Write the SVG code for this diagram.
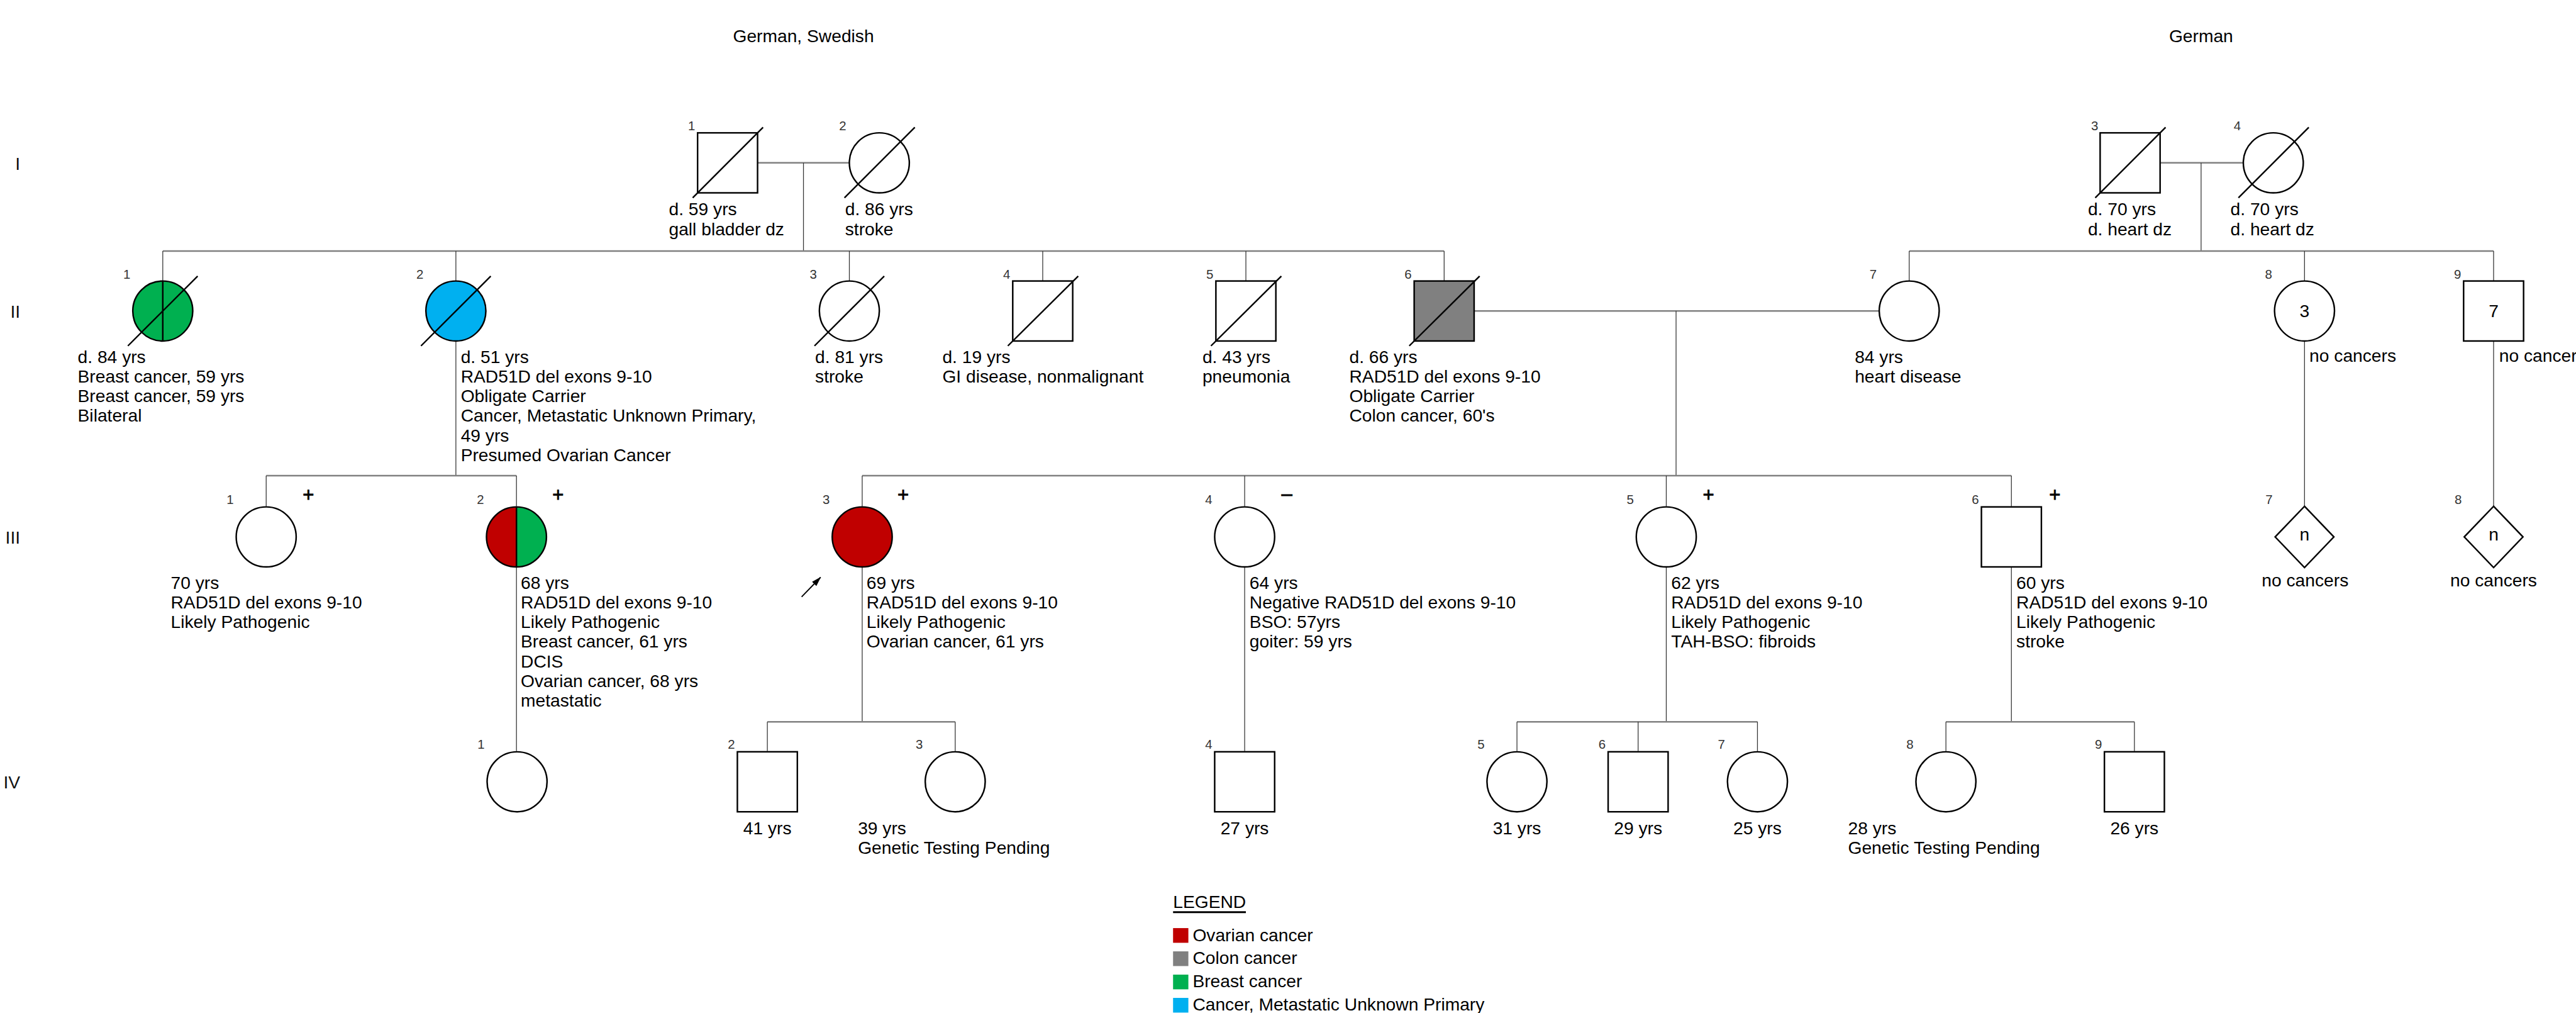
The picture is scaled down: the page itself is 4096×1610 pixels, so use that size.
<svg xmlns="http://www.w3.org/2000/svg" width="4096" height="1610" viewBox="0 0 4096 1610">
<style>
text{font-family:"Liberation Sans",Arial,sans-serif;fill:#000}
.t{font-size:29px}
.pm{font-size:32px;text-anchor:middle;stroke:#000;stroke-width:0.8}
.num{font-size:21px;fill:#333;text-anchor:end}
.gen{font-size:29px;fill:#111;text-anchor:end}
.mid{text-anchor:middle}
.sh{fill:#fff;stroke:#000;stroke-width:2.5}
.sl{stroke:#000;stroke-width:2.5;fill:none}
.h{stroke:#808080;stroke-width:2.5;fill:none}
.v{stroke:#333;stroke-width:1.3;fill:none}
.red{fill:#C00000}
.grn{fill:#00B050}
.blu{fill:#00B0F0}
.gry{fill:#808080}
</style>
<defs>
<marker id="arrow" markerWidth="16" markerHeight="10" refX="15" refY="5" orient="auto" markerUnits="userSpaceOnUse"><path d="M0,0 L16,5 L0,10 z" fill="#000"/></marker>
</defs>
<rect x="0" y="0" width="4096" height="1610" fill="#fff"/>
<g transform="scale(0.973)">
<g id="headers">
<text class="t mid" x="1313" y="69">German, Swedish</text>
<text class="t mid" x="3597" y="69">German</text>
<text class="gen" x="33" y="277">I</text>
<text class="gen" x="33" y="519">II</text>
<text class="gen" x="33" y="888">III</text>
<text class="gen" x="33" y="1288">IV</text>
</g>
<g id="connectors">
<line class="h" x1="1238" y1="266" x2="1388" y2="266"/>
<line class="v" x1="1313" y1="266" x2="1313" y2="410"/>
<line class="h" x1="3530" y1="266" x2="3666" y2="266"/>
<line class="v" x1="3597" y1="266" x2="3597" y2="410"/>
<line class="h" x1="266" y1="410" x2="2360" y2="410"/>
<line class="v" x1="266" y1="410" x2="266" y2="459"/>
<line class="v" x1="745" y1="410" x2="745" y2="459"/>
<line class="v" x1="1388" y1="410" x2="1388" y2="459"/>
<line class="v" x1="1704" y1="410" x2="1704" y2="459"/>
<line class="v" x1="2036" y1="410" x2="2036" y2="459"/>
<line class="v" x1="2360" y1="410" x2="2360" y2="459"/>
<line class="h" x1="3120" y1="410" x2="4075" y2="410"/>
<line class="v" x1="3120" y1="410" x2="3120" y2="459"/>
<line class="v" x1="3766" y1="410" x2="3766" y2="459"/>
<line class="v" x1="4075" y1="410" x2="4075" y2="459"/>
<line class="v" x1="745" y1="557" x2="745" y2="777"/>
<line class="h" x1="435" y1="777" x2="844" y2="777"/>
<line class="v" x1="435" y1="777" x2="435" y2="827"/>
<line class="v" x1="844" y1="777" x2="844" y2="827"/>
<line class="h" x1="2409" y1="508" x2="3071" y2="508"/>
<line class="v" x1="2739" y1="508" x2="2739" y2="777"/>
<line class="h" x1="1409" y1="777" x2="3287" y2="777"/>
<line class="v" x1="1409" y1="777" x2="1409" y2="827"/>
<line class="v" x1="2034" y1="777" x2="2034" y2="827"/>
<line class="v" x1="2723" y1="777" x2="2723" y2="827"/>
<line class="v" x1="3287" y1="777" x2="3287" y2="827"/>
<line class="v" x1="3766" y1="557" x2="3766" y2="827"/>
<line class="v" x1="4075" y1="557" x2="4075" y2="827"/>
<line class="v" x1="844" y1="927" x2="844" y2="1227"/>
<line class="v" x1="1409" y1="927" x2="1409" y2="1179"/>
<line class="h" x1="1254" y1="1179" x2="1561" y2="1179"/>
<line class="v" x1="1254" y1="1179" x2="1254" y2="1227"/>
<line class="v" x1="1561" y1="1179" x2="1561" y2="1227"/>
<line class="v" x1="2034" y1="927" x2="2034" y2="1227"/>
<line class="v" x1="2723" y1="927" x2="2723" y2="1179"/>
<line class="h" x1="2479" y1="1179" x2="2872" y2="1179"/>
<line class="v" x1="2479" y1="1179" x2="2479" y2="1227"/>
<line class="v" x1="2677" y1="1179" x2="2677" y2="1227"/>
<line class="v" x1="2872" y1="1179" x2="2872" y2="1227"/>
<line class="v" x1="3287" y1="927" x2="3287" y2="1179"/>
<line class="h" x1="3180" y1="1179" x2="3488" y2="1179"/>
<line class="v" x1="3180" y1="1179" x2="3180" y2="1227"/>
<line class="v" x1="3488" y1="1179" x2="3488" y2="1227"/>
<line x1="1310" y1="975" x2="1341" y2="943" stroke="#000" stroke-width="2" marker-end="url(#arrow)"/>
</g>
<g id="I-1">
<rect class="sh" x="1140" y="217" width="98" height="98"/>
<line class="sl" x1="1132" y1="323" x2="1247" y2="208"/>
<text class="num" x="1136" y="213">1</text>
<text class="t" x="1093" y="352"><tspan x="1093">d. 59 yrs</tspan><tspan x="1093" dy="32">gall bladder dz</tspan></text>
</g>
<g id="I-2">
<circle class="sh" cx="1437" cy="266" r="49"/>
<line class="sl" x1="1380" y1="323" x2="1495" y2="208"/>
<text class="num" x="1383" y="213">2</text>
<text class="t" x="1381" y="352"><tspan x="1381">d. 86 yrs</tspan><tspan x="1381" dy="32">stroke</tspan></text>
</g>
<g id="I-3">
<rect class="sh" x="3432" y="217" width="98" height="98"/>
<line class="sl" x1="3424" y1="323" x2="3539" y2="208"/>
<text class="num" x="3429" y="213">3</text>
<text class="t" x="3412" y="352"><tspan x="3412">d. 70 yrs</tspan><tspan x="3412" dy="32">d. heart dz</tspan></text>
</g>
<g id="I-4">
<circle class="sh" cx="3715" cy="266" r="49"/>
<line class="sl" x1="3658" y1="323" x2="3773" y2="208"/>
<text class="num" x="3662" y="213">4</text>
<text class="t" x="3645" y="352"><tspan x="3645">d. 70 yrs</tspan><tspan x="3645" dy="32">d. heart dz</tspan></text>
</g>
<g id="II-1">
<circle class="sh grn" cx="266" cy="508" r="49"/>
<line class="sl" x1="266" y1="459" x2="266" y2="557"/>
<line class="sl" x1="209" y1="565" x2="323" y2="451"/>
<text class="num" x="213" y="455">1</text>
<text class="t" x="127" y="593"><tspan x="127">d. 84 yrs</tspan><tspan x="127" dy="32">Breast cancer, 59 yrs</tspan><tspan x="127" dy="32">Breast cancer, 59 yrs</tspan><tspan x="127" dy="32">Bilateral</tspan></text>
</g>
<g id="II-2">
<circle class="sh blu" cx="745" cy="508" r="49"/>
<line class="sl" x1="688" y1="565" x2="802" y2="451"/>
<text class="num" x="692" y="455">2</text>
<text class="t" x="753" y="593"><tspan x="753">d. 51 yrs</tspan><tspan x="753" dy="32">RAD51D del exons 9-10</tspan><tspan x="753" dy="32">Obligate Carrier</tspan><tspan x="753" dy="32">Cancer, Metastatic Unknown Primary,</tspan><tspan x="753" dy="32">49 yrs</tspan><tspan x="753" dy="32">Presumed Ovarian Cancer</tspan></text>
</g>
<g id="II-3">
<circle class="sh" cx="1388" cy="508" r="49"/>
<line class="sl" x1="1331" y1="565" x2="1445" y2="451"/>
<text class="num" x="1335" y="455">3</text>
<text class="t" x="1332" y="593"><tspan x="1332">d. 81 yrs</tspan><tspan x="1332" dy="32">stroke</tspan></text>
</g>
<g id="II-4">
<rect class="sh" x="1655" y="459" width="98" height="98"/>
<line class="sl" x1="1647" y1="565" x2="1762" y2="451"/>
<text class="num" x="1651" y="455">4</text>
<text class="t" x="1540" y="593"><tspan x="1540">d. 19 yrs</tspan><tspan x="1540" dy="32">GI disease, nonmalignant</tspan></text>
</g>
<g id="II-5">
<rect class="sh" x="1987" y="459" width="98" height="98"/>
<line class="sl" x1="1979" y1="565" x2="2094" y2="451"/>
<text class="num" x="1983" y="455">5</text>
<text class="t" x="1965" y="593"><tspan x="1965">d. 43 yrs</tspan><tspan x="1965" dy="32">pneumonia</tspan></text>
</g>
<g id="II-6">
<rect class="sh gry" x="2311" y="459" width="98" height="98"/>
<line class="sl" x1="2303" y1="565" x2="2418" y2="451"/>
<text class="num" x="2307" y="455">6</text>
<text class="t" x="2205" y="593"><tspan x="2205">d. 66 yrs</tspan><tspan x="2205" dy="32">RAD51D del exons 9-10</tspan><tspan x="2205" dy="32">Obligate Carrier</tspan><tspan x="2205" dy="32">Colon cancer, 60's</tspan></text>
</g>
<g id="II-7">
<circle class="sh" cx="3120" cy="508" r="49"/>
<text class="num" x="3067" y="455">7</text>
<text class="t" x="3031" y="593"><tspan x="3031">84 yrs</tspan><tspan x="3031" dy="32">heart disease</tspan></text>
</g>
<g id="II-8">
<circle class="sh" cx="3766" cy="508" r="49"/>
<text class="t mid" x="3766" y="518">3</text>
<text class="num" x="3713" y="455">8</text>
<text class="t" x="3774" y="591">no cancers</text>
</g>
<g id="II-9">
<rect class="sh" x="4026" y="459" width="98" height="98"/>
<text class="t mid" x="4075" y="518">7</text>
<text class="num" x="4022" y="455">9</text>
<text class="t" x="4084" y="591">no cancers</text>
</g>
<g id="III-1">
<circle class="sh" cx="435" cy="877" r="49"/>
<text class="num" x="382" y="823">1</text>
<text class="pm" x="504" y="819">+</text>
<text class="t" x="279" y="962"><tspan x="279">70 yrs</tspan><tspan x="279" dy="32">RAD51D del exons 9-10</tspan><tspan x="279" dy="32">Likely Pathogenic</tspan></text>
</g>
<g id="III-2">
<path class="red" d="M844,828 A49,49 0 0 0 844,926 Z"/>
<path class="grn" d="M844,828 A49,49 0 0 1 844,926 Z"/>
<circle class="sh" cx="844" cy="877" r="49" style="fill:none"/>
<line class="sl" x1="844" y1="828" x2="844" y2="926"/>
<text class="num" x="791" y="823">2</text>
<text class="pm" x="912" y="819">+</text>
<text class="t" x="851" y="962"><tspan x="851">68 yrs</tspan><tspan x="851" dy="32">RAD51D del exons 9-10</tspan><tspan x="851" dy="32">Likely Pathogenic</tspan><tspan x="851" dy="32">Breast cancer, 61 yrs</tspan><tspan x="851" dy="32">DCIS</tspan><tspan x="851" dy="32">Ovarian cancer, 68 yrs</tspan><tspan x="851" dy="32">metastatic</tspan></text>
</g>
<g id="III-3">
<circle class="sh red" cx="1409" cy="877" r="49"/>
<text class="num" x="1356" y="823">3</text>
<text class="pm" x="1476" y="819">+</text>
<text class="t" x="1416" y="962"><tspan x="1416">69 yrs</tspan><tspan x="1416" dy="32">RAD51D del exons 9-10</tspan><tspan x="1416" dy="32">Likely Pathogenic</tspan><tspan x="1416" dy="32">Ovarian cancer, 61 yrs</tspan></text>
</g>
<g id="III-4">
<circle class="sh" cx="2034" cy="877" r="49"/>
<text class="num" x="1981" y="823">4</text>
<text class="pm" x="2103" y="817">–</text>
<text class="t" x="2042" y="962"><tspan x="2042">64 yrs</tspan><tspan x="2042" dy="32">Negative RAD51D del exons 9-10</tspan><tspan x="2042" dy="32">BSO: 57yrs</tspan><tspan x="2042" dy="32">goiter: 59 yrs</tspan></text>
</g>
<g id="III-5">
<circle class="sh" cx="2723" cy="877" r="49"/>
<text class="num" x="2670" y="823">5</text>
<text class="pm" x="2792" y="819">+</text>
<text class="t" x="2731" y="962"><tspan x="2731">62 yrs</tspan><tspan x="2731" dy="32">RAD51D del exons 9-10</tspan><tspan x="2731" dy="32">Likely Pathogenic</tspan><tspan x="2731" dy="32">TAH-BSO: fibroids</tspan></text>
</g>
<g id="III-6">
<rect class="sh" x="3238" y="828" width="98" height="98"/>
<text class="num" x="3234" y="823">6</text>
<text class="pm" x="3358" y="819">+</text>
<text class="t" x="3295" y="962"><tspan x="3295">60 yrs</tspan><tspan x="3295" dy="32">RAD51D del exons 9-10</tspan><tspan x="3295" dy="32">Likely Pathogenic</tspan><tspan x="3295" dy="32">stroke</tspan></text>
</g>
<g id="III-7">
<polygon class="sh" points="3766,827 3814,877 3766,927 3718,877"/>
<text class="t mid" x="3766" y="883">n</text>
<text class="num" x="3714" y="823">7</text>
<text class="t mid" x="3767" y="958">no cancers</text>
</g>
<g id="III-8">
<polygon class="sh" points="4075,827 4123,877 4075,927 4027,877"/>
<text class="t mid" x="4075" y="883">n</text>
<text class="num" x="4023" y="823">8</text>
<text class="t mid" x="4075" y="958">no cancers</text>
</g>
<g id="IV-1">
<circle class="sh" cx="845" cy="1277" r="49"/>
<text class="num" x="792" y="1223">1</text>
</g>
<g id="IV-2">
<rect class="sh" x="1205" y="1228" width="98" height="98"/>
<text class="num" x="1201" y="1223">2</text>
<text class="t mid" x="1254" y="1363">41 yrs</text>
</g>
<g id="IV-3">
<circle class="sh" cx="1561" cy="1277" r="49"/>
<text class="num" x="1508" y="1223">3</text>
<text class="t" x="1402" y="1363"><tspan x="1402">39 yrs</tspan><tspan x="1402" dy="32">Genetic Testing Pending</tspan></text>
</g>
<g id="IV-4">
<rect class="sh" x="1985" y="1228" width="98" height="98"/>
<text class="num" x="1981" y="1223">4</text>
<text class="t mid" x="2034" y="1363">27 yrs</text>
</g>
<g id="IV-5">
<circle class="sh" cx="2479" cy="1277" r="49"/>
<text class="num" x="2426" y="1223">5</text>
<text class="t mid" x="2479" y="1363">31 yrs</text>
</g>
<g id="IV-6">
<rect class="sh" x="2628" y="1228" width="98" height="98"/>
<text class="num" x="2624" y="1223">6</text>
<text class="t mid" x="2677" y="1363">29 yrs</text>
</g>
<g id="IV-7">
<circle class="sh" cx="2872" cy="1277" r="49"/>
<text class="num" x="2819" y="1223">7</text>
<text class="t mid" x="2872" y="1363">25 yrs</text>
</g>
<g id="IV-8">
<circle class="sh" cx="3180" cy="1277" r="49"/>
<text class="num" x="3127" y="1223">8</text>
<text class="t" x="3020" y="1363"><tspan x="3020">28 yrs</tspan><tspan x="3020" dy="32">Genetic Testing Pending</tspan></text>
</g>
<g id="IV-9">
<rect class="sh" x="3439" y="1228" width="98" height="98"/>
<text class="num" x="3435" y="1223">9</text>
<text class="t mid" x="3488" y="1363">26 yrs</text>
</g>
<g id="legend">
<text class="t" x="1917" y="1483">LEGEND</text>
<line x1="1917" y1="1490" x2="2036" y2="1490" stroke="#000" stroke-width="3"/>
<rect class="red" x="1917" y="1516" width="25" height="24"/>
<text class="t" x="1949" y="1537">Ovarian cancer</text>
<rect class="gry" x="1917" y="1554" width="25" height="24"/>
<text class="t" x="1949" y="1575">Colon cancer</text>
<rect class="grn" x="1917" y="1592" width="25" height="24"/>
<text class="t" x="1949" y="1613">Breast cancer</text>
<rect class="blu" x="1917" y="1630" width="25" height="24"/>
<text class="t" x="1949" y="1651">Cancer, Metastatic Unknown Primary</text>
</g>
</g>
</svg>
